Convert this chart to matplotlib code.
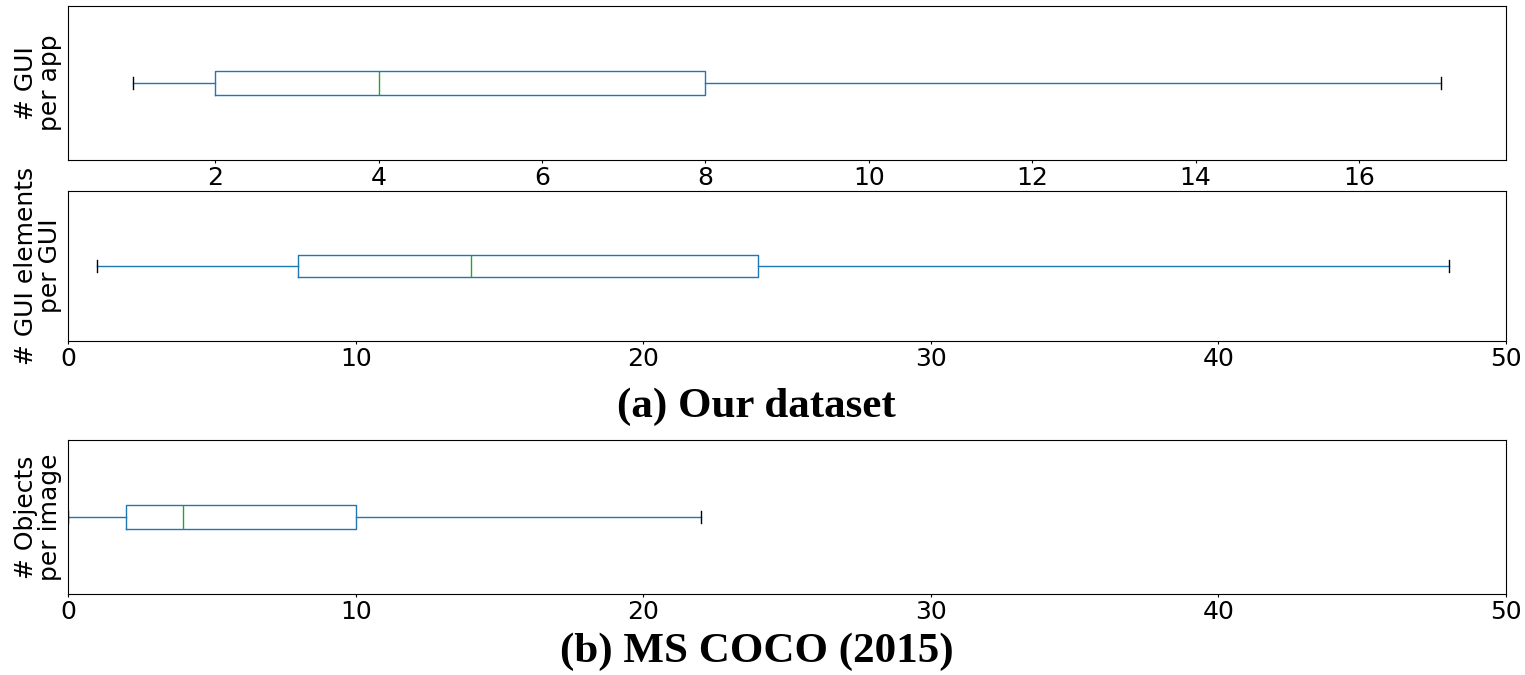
import matplotlib
matplotlib.use('Agg')
from matplotlib import pyplot as plt

# box statistics: whisker low, q1, median, q3, whisker high
row_labels = ['# GUI\nper app', '# GUI elements\nper GUI', '# Objects\nper image']
whislo = [1, 1, 0]
q1 = [2, 8, 2]
med = [4, 14, 4]
q3 = [8, 24, 10]
whishi = [17, 48, 22]
xlims = [None, (0, 50), (0, 50)]
titles = ['(a) Our dataset', '(b) MS COCO (2015)']

fig = plt.figure(figsize=(15.25, 6.75), dpi=100)
rects = [
    [0.0446, 0.7630, 0.9430, 0.2281],
    [0.0446, 0.4948, 0.9430, 0.2222],
    [0.0446, 0.1200, 0.9430, 0.2281],
]

for i, r in enumerate(rects):
    ax = fig.add_axes(r)
    stats = [{'whislo': whislo[i], 'q1': q1[i], 'med': med[i],
              'q3': q3[i], 'whishi': whishi[i], 'fliers': []}]
    ax.bxp(stats, vert=False, widths=0.15, showfliers=False,
           boxprops=dict(color='#1f77b4'),
           whiskerprops=dict(color='#1f77b4'),
           capprops=dict(color='black'),
           medianprops=dict(color='#2ca02c'))
    ax.set_yticks([])
    ax.set_ylim(0.5, 1.5)
    if xlims[i] is not None:
        ax.set_xlim(*xlims[i])
    ax.set_ylabel(row_labels[i], fontsize=18, labelpad=4, linespacing=1.0)
    ax.tick_params(axis='x', labelsize=18, length=2.5, pad=2)

fig.text(0.496, 0.398, titles[0], ha='center', va='center',
         fontsize=31, fontweight='bold', family='Liberation Serif')
fig.text(0.496, 0.034, titles[1], ha='center', va='center',
         fontsize=31, fontweight='bold', family='Liberation Serif')

fig.savefig('out.png', dpi=100)
